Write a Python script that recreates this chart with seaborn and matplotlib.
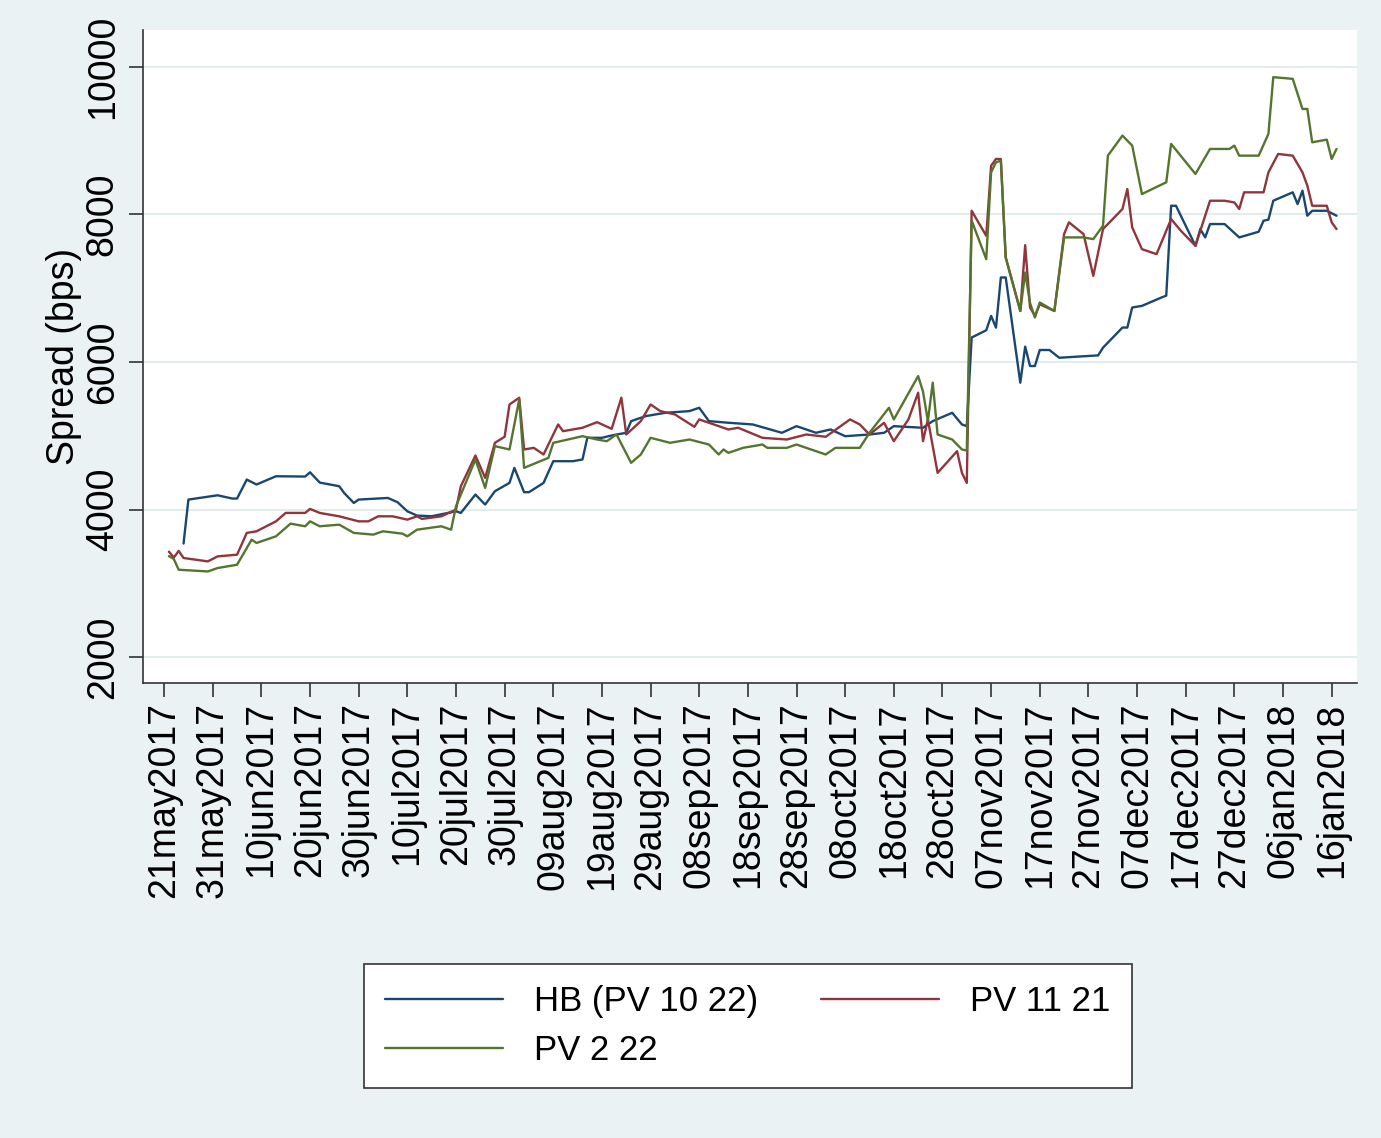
import matplotlib
matplotlib.use("Agg")
import matplotlib.pyplot as plt
import seaborn as sns
import pandas as pd

# ---------------- data ----------------
hb_dates = ["2017-05-25", "2017-05-26", "2017-06-01", "2017-06-04", "2017-06-05", "2017-06-07",
            "2017-06-09", "2017-06-13", "2017-06-19", "2017-06-20", "2017-06-22", "2017-06-26",
            "2017-06-27", "2017-06-29", "2017-06-30", "2017-07-06", "2017-07-08", "2017-07-10",
            "2017-07-12", "2017-07-15", "2017-07-20", "2017-07-21", "2017-07-24", "2017-07-26",
            "2017-07-28", "2017-07-31", "2017-08-01", "2017-08-03", "2017-08-04", "2017-08-07",
            "2017-08-09", "2017-08-13", "2017-08-15", "2017-08-16", "2017-08-19", "2017-08-21",
            "2017-08-24", "2017-08-25", "2017-08-28", "2017-09-01", "2017-09-06", "2017-09-08",
            "2017-09-10", "2017-09-14", "2017-09-19", "2017-09-25", "2017-09-28", "2017-10-02",
            "2017-10-05", "2017-10-08", "2017-10-13", "2017-10-16", "2017-10-18", "2017-10-24",
            "2017-10-26", "2017-10-30", "2017-11-01", "2017-11-02", "2017-11-03", "2017-11-06",
            "2017-11-07", "2017-11-08", "2017-11-09", "2017-11-10", "2017-11-13", "2017-11-14",
            "2017-11-15", "2017-11-16", "2017-11-17", "2017-11-19", "2017-11-21", "2017-11-29",
            "2017-11-30", "2017-12-02", "2017-12-04", "2017-12-05", "2017-12-06", "2017-12-08",
            "2017-12-12", "2017-12-13", "2017-12-14", "2017-12-15", "2017-12-19", "2017-12-20",
            "2017-12-21", "2017-12-22", "2017-12-25", "2017-12-28", "2018-01-01", "2018-01-02",
            "2018-01-03", "2018-01-04", "2018-01-08", "2018-01-09", "2018-01-10", "2018-01-11",
            "2018-01-12", "2018-01-15", "2018-01-17"]
hb_values = [3540, 4136, 4194, 4150, 4150, 4407, 4340, 4452, 4448, 4506, 4366, 4317,
             4226, 4090, 4136, 4158, 4100, 3977, 3919, 3910, 3977, 3955, 4204, 4068,
             4249, 4362, 4566, 4236, 4236, 4362, 4656, 4656, 4679, 4973, 4973, 5005,
             5041, 5199, 5267, 5312, 5335, 5380, 5199, 5177, 5154, 5041, 5131, 5041,
             5086, 4995, 5018, 5041, 5131, 5109, 5199, 5312, 5154, 5131, 6332, 6431,
             6625, 6467, 7146, 7146, 5720, 6209, 5946, 5946, 6163, 6163, 6058, 6090,
             6195, 6331, 6467, 6467, 6739, 6761, 6874, 6900, 8118, 8118, 7575, 7802,
             7689, 7870, 7870, 7689, 7766, 7915, 7930, 8186, 8300, 8141, 8323, 7983,
             8050, 8050, 7983]

pv1121_dates = ["2017-05-22", "2017-05-23", "2017-05-24", "2017-05-25", "2017-05-30", "2017-06-01",
                "2017-06-05", "2017-06-07", "2017-06-09", "2017-06-13", "2017-06-15", "2017-06-19",
                "2017-06-20", "2017-06-22", "2017-06-26", "2017-06-30", "2017-07-02", "2017-07-04",
                "2017-07-07", "2017-07-10", "2017-07-12", "2017-07-13", "2017-07-17", "2017-07-20",
                "2017-07-21", "2017-07-24", "2017-07-26", "2017-07-28", "2017-07-30", "2017-07-31",
                "2017-08-02", "2017-08-03", "2017-08-05", "2017-08-07", "2017-08-10", "2017-08-11",
                "2017-08-15", "2017-08-18", "2017-08-21", "2017-08-23", "2017-08-24", "2017-08-27",
                "2017-08-29", "2017-08-31", "2017-09-03", "2017-09-07", "2017-09-08", "2017-09-11",
                "2017-09-14", "2017-09-16", "2017-09-21", "2017-09-26", "2017-09-30", "2017-10-04",
                "2017-10-09", "2017-10-11", "2017-10-13", "2017-10-16", "2017-10-18", "2017-10-21",
                "2017-10-23", "2017-10-24", "2017-10-25", "2017-10-27", "2017-10-31", "2017-11-01",
                "2017-11-02", "2017-11-03", "2017-11-06", "2017-11-07", "2017-11-08", "2017-11-09",
                "2017-11-10", "2017-11-13", "2017-11-14", "2017-11-15", "2017-11-16", "2017-11-17",
                "2017-11-20", "2017-11-22", "2017-11-23", "2017-11-26", "2017-11-28", "2017-11-30",
                "2017-12-04", "2017-12-05", "2017-12-06", "2017-12-08", "2017-12-11", "2017-12-14",
                "2017-12-16", "2017-12-19", "2017-12-22", "2017-12-25", "2017-12-27", "2017-12-28",
                "2017-12-29", "2018-01-02", "2018-01-03", "2018-01-05", "2018-01-08", "2018-01-10",
                "2018-01-11", "2018-01-12", "2018-01-15", "2018-01-16", "2018-01-17"]
pv1121_values = [3430, 3350, 3440, 3344, 3298, 3366, 3389, 3684, 3706, 3841, 3955, 3955,
                 4009, 3955, 3909, 3841, 3841, 3909, 3909, 3864, 3909, 3874, 3909, 4000,
                 4317, 4733, 4430, 4905, 4987, 5425, 5516, 4815, 4837, 4747, 5154, 5063,
                 5109, 5185, 5095, 5516, 5018, 5199, 5425, 5335, 5290, 5122, 5222, 5154,
                 5086, 5109, 4973, 4950, 5018, 4987, 5222, 5154, 5018, 5177, 4927, 5222,
                 5584, 4927, 5222, 4498, 4792, 4498, 4362, 8050, 7711, 8661, 8752, 8752,
                 7417, 6692, 7584, 6740, 6626, 6783, 6692, 7734, 7893, 7734, 7168, 7802,
                 8074, 8345, 7825, 7530, 7462, 7937, 7779, 7575, 8186, 8186, 8163, 8074,
                 8300, 8300, 8571, 8820, 8797, 8571, 8390, 8118, 8118, 7893, 7802]

pv222_dates = ["2017-05-22", "2017-05-23", "2017-05-24", "2017-05-30", "2017-06-01", "2017-06-05",
               "2017-06-08", "2017-06-09", "2017-06-13", "2017-06-16", "2017-06-19", "2017-06-20",
               "2017-06-22", "2017-06-26", "2017-06-29", "2017-07-03", "2017-07-05", "2017-07-09",
               "2017-07-10", "2017-07-12", "2017-07-17", "2017-07-19", "2017-07-20", "2017-07-24",
               "2017-07-26", "2017-07-28", "2017-07-31", "2017-08-02", "2017-08-03", "2017-08-08",
               "2017-08-09", "2017-08-15", "2017-08-18", "2017-08-20", "2017-08-22", "2017-08-25",
               "2017-08-27", "2017-08-29", "2017-09-02", "2017-09-06", "2017-09-10", "2017-09-12",
               "2017-09-13", "2017-09-14", "2017-09-17", "2017-09-21", "2017-09-22", "2017-09-26",
               "2017-09-28", "2017-10-04", "2017-10-06", "2017-10-11", "2017-10-13", "2017-10-17",
               "2017-10-18", "2017-10-23", "2017-10-24", "2017-10-25", "2017-10-26", "2017-10-27",
               "2017-10-30", "2017-11-01", "2017-11-02", "2017-11-03", "2017-11-06", "2017-11-07",
               "2017-11-08", "2017-11-09", "2017-11-10", "2017-11-13", "2017-11-14", "2017-11-15",
               "2017-11-16", "2017-11-17", "2017-11-20", "2017-11-22", "2017-11-26", "2017-11-28",
               "2017-11-30", "2017-12-01", "2017-12-04", "2017-12-06", "2017-12-08", "2017-12-13",
               "2017-12-14", "2017-12-19", "2017-12-22", "2017-12-26", "2017-12-27", "2017-12-28",
               "2018-01-01", "2018-01-03", "2018-01-04", "2018-01-08", "2018-01-10", "2018-01-11",
               "2018-01-12", "2018-01-15", "2018-01-16", "2018-01-17"]
pv222_values = [3370, 3330, 3185, 3162, 3208, 3253, 3593, 3548, 3638, 3810, 3774, 3841,
                3774, 3796, 3684, 3661, 3706, 3674, 3638, 3728, 3774, 3728, 4045, 4679,
                4294, 4860, 4815, 5494, 4566, 4701, 4905, 4995, 4950, 4927, 5018, 4634,
                4747, 4973, 4905, 4950, 4882, 4747, 4815, 4769, 4837, 4882, 4837, 4837,
                4882, 4747, 4837, 4837, 5041, 5380, 5222, 5810, 5600, 5200, 5720, 5018,
                4950, 4815, 4800, 7916, 7394, 8571, 8707, 8729, 7417, 6692, 7213, 6800,
                6604, 6807, 6692, 7689, 7689, 7666, 7847, 8797, 9069, 8933, 8277, 8436,
                8956, 8549, 8888, 8888, 8933, 8797, 8797, 9092, 9861, 9838, 9430, 9430,
                8978, 9014, 8752, 8888]

series_names = ["HB (PV 10 22)", "PV 11 21", "PV 2 22"]
series_colors = ["#1A476F", "#90353B", "#55752F"]

tick_dates = ["2017-05-21", "2017-05-31", "2017-06-10", "2017-06-20", "2017-06-30", "2017-07-10",
              "2017-07-20", "2017-07-30", "2017-08-09", "2017-08-19", "2017-08-29", "2017-09-08",
              "2017-09-18", "2017-09-28", "2017-10-08", "2017-10-18", "2017-10-28", "2017-11-07",
              "2017-11-17", "2017-11-27", "2017-12-07", "2017-12-17", "2017-12-27", "2018-01-06",
              "2018-01-16"]
tick_labels = ["21may2017", "31may2017", "10jun2017", "20jun2017", "30jun2017", "10jul2017",
               "20jul2017", "30jul2017", "09aug2017", "19aug2017", "29aug2017", "08sep2017",
               "18sep2017", "28sep2017", "08oct2017", "18oct2017", "28oct2017", "07nov2017",
               "17nov2017", "27nov2017", "07dec2017", "17dec2017", "27dec2017", "06jan2018",
               "16jan2018"]
y_ticks = [2000, 4000, 6000, 8000, 10000]

# ---------------- plot ----------------
sns.set_theme(style="white")
plt.rcParams["font.family"] = ["Liberation Sans", "DejaVu Sans"]
plt.rcParams["text.color"] = "black"
plt.rcParams["axes.labelcolor"] = "black"
plt.rcParams["xtick.color"] = "black"
plt.rcParams["ytick.color"] = "black"

BG = "#EAF2F3"
fig = plt.figure(figsize=(13.81, 11.38), dpi=100, facecolor=BG)
ax = fig.add_axes([143 / 1381, 1 - 683 / 1138, (1357 - 143) / 1381, (683 - 30) / 1138])
ax.set_facecolor("white")

all_dates = [hb_dates, pv1121_dates, pv222_dates]
all_vals = [hb_values, pv1121_values, pv222_values]
for name, col, d, v in zip(series_names, series_colors, all_dates, all_vals):
    df = pd.DataFrame({"date": pd.to_datetime(d), "spread": v})
    sns.lineplot(data=df, x="date", y="spread", ax=ax, color=col, linewidth=1.7,
                 label=name, estimator=None, sort=True)

ax.set_ylim(1650, 10500)
ax.set_xlim(pd.Timestamp("2017-05-16 16:00"), pd.Timestamp("2018-01-21 05:00"))

ax.set_yticks(y_ticks)
ax.set_yticklabels([str(t) for t in y_ticks], rotation=90, va="center", fontsize=27)
ax.set_xticks(pd.to_datetime(tick_dates))
ax.set_xticklabels(tick_labels, rotation=90, ha="center", va="top", fontsize=27)

ax.yaxis.grid(True, color="#E3EBED", linewidth=1.5)
ax.xaxis.grid(False)
ax.set_axisbelow(True)

for s in ["top", "right"]:
    ax.spines[s].set_visible(False)
for s in ["left", "bottom"]:
    ax.spines[s].set_color("#333333")
    ax.spines[s].set_linewidth(1.2)
ax.tick_params(axis="both", direction="out", length=10, width=1.2, color="#333333",
               labelcolor="black", bottom=True, left=True)
ax.tick_params(axis="x", pad=4)
ax.tick_params(axis="y", pad=6)

ax.set_xlabel("")
ax.set_ylabel("Spread (bps)", fontsize=27, labelpad=2, color="black")

handles, labels = ax.get_legend_handles_labels()
ax.get_legend().remove()
order = [0, 2, 1]
leg = fig.legend([handles[i] for i in order], [labels[i] for i in order],
                 loc="center", bbox_to_anchor=(748 / 1381, 1 - 1026 / 1138), ncol=2,
                 fontsize=25, frameon=True, fancybox=False, edgecolor="#333333",
                 framealpha=1.0, labelcolor="black",
                 handlelength=3.4, handletextpad=0.9, columnspacing=1.8,
                 borderpad=0.6, labelspacing=0.45)
leg.get_frame().set_linewidth(1.2)
leg.get_frame().set_facecolor("white")
for line in leg.get_lines():
    line.set_linewidth(1.7)

fig.savefig("out.png", dpi=100, facecolor=BG)
